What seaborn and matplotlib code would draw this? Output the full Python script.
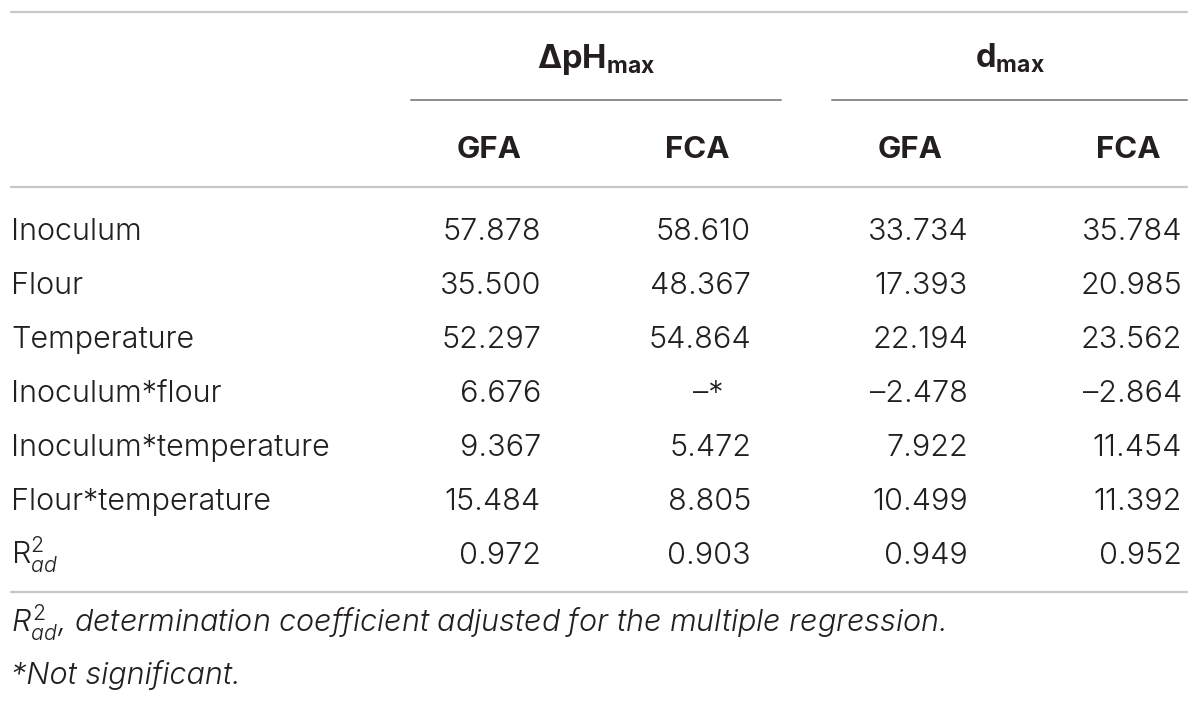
import matplotlib
matplotlib.use('Agg')
import matplotlib.pyplot as plt
import seaborn as sns

# table contents
row_labels = ['Inoculum', 'Flour', 'Temperature', 'Inoculum*flour',
              'Inoculum*temperature', 'Flour*temperature', r'R$^{2}_{\mathit{ad}}$']
group_labels = [r'$\mathbf{\Delta pH_{max}}$', r'$\mathbf{d_{max}}$']
sub_labels = ['GFA', 'FCA', 'GFA', 'FCA']

dph_gfa = [57.878, 35.500, 52.297, 6.676, 9.367, 15.484, 0.972]
dph_fca = [58.610, 48.367, 54.864, None, 5.472, 8.805, 0.903]
d_gfa = [33.734, 17.393, 22.194, -2.478, 7.922, 10.499, 0.949]
d_fca = [35.784, 20.985, 23.562, -2.864, 11.454, 11.392, 0.952]

footnotes = [r'$\mathit{R^{2}_{ad}}$, determination coefficient adjusted for the multiple regression.',
             '*Not significant.']

sns.set_theme(style='white')
plt.rcParams['font.family'] = ['Inter', 'DejaVu Sans']
plt.rcParams['mathtext.fontset'] = 'custom'
plt.rcParams['mathtext.rm'] = 'Inter:weight=300'
plt.rcParams['mathtext.it'] = 'Inter:italic:weight=300'
plt.rcParams['mathtext.bf'] = 'Inter:bold'

txt = '#231f20'
fs = 22

fig = plt.figure(figsize=(12, 7.04), dpi=100)
ax = fig.add_axes([0, 0, 1, 1])
ax.set_xlim(0, 1200)
ax.set_ylim(704, 0)
ax.axis('off')


def fmt(v):
    if v is None:
        return '\u2013*'
    s = f'{abs(v):.3f}'
    return ('\u2013' + s) if v < 0 else s


# rules
for yl in [12, 187, 592]:
    ax.plot([11, 1187], [yl, yl], color='#c8c8c8', lw=1.6)
ax.plot([411, 781], [100, 100], color='#8c8c8c', lw=1.4)
ax.plot([832, 1187], [100, 100], color='#8c8c8c', lw=1.4)

# header
for lab, xc in zip(group_labels, [596, 1010]):
    ax.text(xc, 68, lab, ha='center', va='baseline', fontsize=23.5, color=txt)
for lab, xc in zip(sub_labels, [489, 697, 910, 1128]):
    ax.text(xc, 158, lab, ha='center', va='baseline', fontsize=22.5,
            fontweight='bold', color=txt)

# body
col_right = [541, 751, 968, 1182]
cols = [dph_gfa, dph_fca, d_gfa, d_fca]
y0, row_h = 240, 54
for i, lab in enumerate(row_labels):
    y = y0 + i * row_h
    ax.text(11, y, lab, ha='left', va='baseline', fontsize=fs, color=txt,
            fontweight=300)
    for xr, vals in zip(col_right, cols):
        v = vals[i]
        if v is None:
            ax.text(708, y, fmt(v), ha='center', va='baseline', fontsize=fs,
                    color=txt, fontweight=300)
        else:
            ax.text(xr, y, fmt(v), ha='right', va='baseline', fontsize=fs,
                    color=txt, fontweight=300)

# footnotes
for j, note in enumerate(footnotes):
    ax.text(11, 632 + j * 52, note, ha='left', va='baseline', fontsize=22,
            style='italic', fontweight=300, color=txt)

fig.savefig('out.png', dpi=100, facecolor='white')
